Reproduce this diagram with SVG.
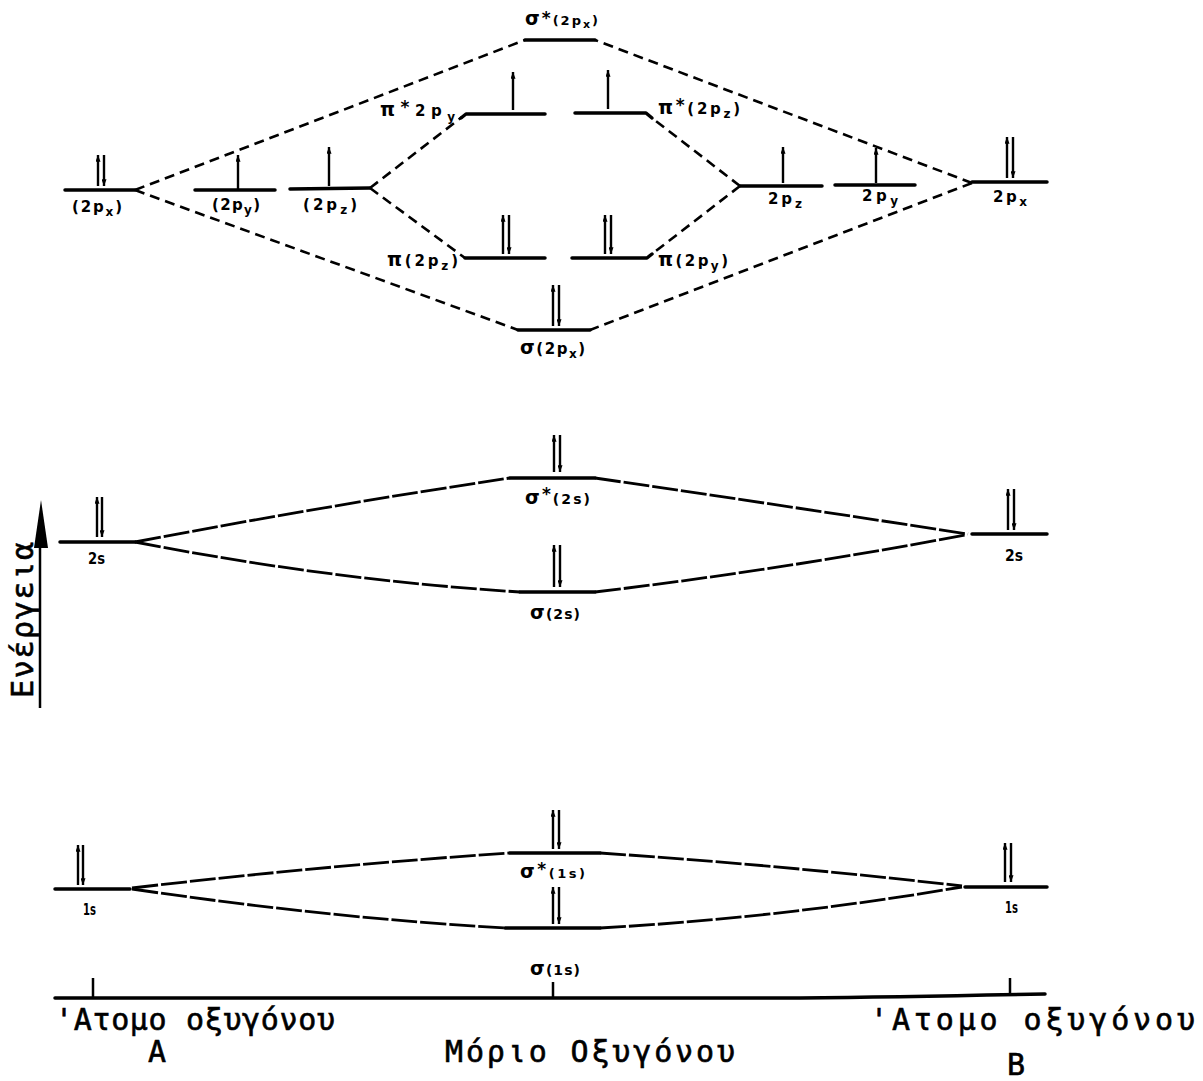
<svg xmlns="http://www.w3.org/2000/svg" width="1203" height="1081" viewBox="0 0 1203 1081">
  <style>
    .lvl { stroke: #000; stroke-width: 3.5; fill: none; stroke-linecap: round; stroke-linejoin: round; }
    .e { stroke: #000; stroke-width: 2.4; fill: none; }
    .up { marker-end: url(#ah); }
    .dash { stroke: #000; stroke-width: 2.6; fill: none; stroke-dasharray: 10 6; }
    .ldash { stroke: #000; stroke-width: 2.8; fill: none; stroke-dasharray: 26 3; }
    .lab { font-family: "DejaVu Sans", "Liberation Sans", sans-serif; font-weight: bold; font-size: 15px; fill: #000; }
    .big { font-size: 19px; }
    .sub { font-size: 12px; }
    .mono { font-family: "DejaVu Sans Mono", "Liberation Mono", monospace; font-size: 30px; fill: #000; stroke: #000; stroke-width: 0.6; }
    .axis { stroke: #000; stroke-width: 2.5; fill: none; }
  </style>
  <defs>
    <marker id="ah" viewBox="0 0 8 6" markerWidth="7" markerHeight="5" refX="8" refY="3" orient="auto" markerUnits="userSpaceOnUse">
      <path d="M0,0 L8,3 L0,6 z" fill="#000"/>
    </marker>
  </defs>
  <rect width="1203" height="1081" fill="#fff"/>

  <!-- energy axis -->
  <g id="energy-axis">
    <line class="axis" x1="40" y1="708" x2="40" y2="540"/>
    <polygon points="41,500 34,548 48,548" fill="#000"/>
    <text class="mono" font-size="31" transform="translate(33,698) rotate(-90)" textLength="156" lengthAdjust="spacing">Ενέργεια</text>
  </g>

  <!-- connectors -->
  <g id="connectors">
    <!-- 2p -->
    <path class="dash" d="M135,190 L525,40"/>
    <path class="dash" d="M135,190 L518,330"/>
    <path class="dash" d="M972,183 L595,40"/>
    <path class="dash" d="M972,183 L590,330"/>
    <path class="dash" d="M370,188 L462,117"/>
    <path class="dash" d="M370,188 L465,258"/>
    <path class="dash" d="M740,186 L652,118"/>
    <path class="dash" d="M740,186 L652,254"/>
    <!-- 2s -->
    <path class="ldash" d="M135,542 Q330,505 510,478"/>
    <path class="ldash" d="M135,542 Q330,580 520,592"/>
    <path class="ldash" d="M595,478 Q780,505 968,534"/>
    <path class="ldash" d="M595,592 Q780,570 965,535"/>
    <!-- 1s -->
    <path class="ldash" d="M132,888 Q330,865 510,853"/>
    <path class="ldash" d="M132,889 Q330,918 505,928"/>
    <path class="ldash" d="M600,853 Q780,865 962,886"/>
    <path class="ldash" d="M600,928 Q780,918 962,887"/>
  </g>

  <!-- atom A, 2p -->
  <g id="A-2px">
    <line class="lvl" x1="65" y1="190" x2="135" y2="190"/>
    <line class="e up" x1="98" y1="186" x2="98" y2="155"/>
    <line class="e up" x1="104" y1="155" x2="104" y2="186"/>
    <text class="lab" x="72" y="212" textLength="50" lengthAdjust="spacing">(2p<tspan class="sub" dy="4">x</tspan><tspan dy="-4">)</tspan></text>
  </g>
  <g id="A-2py">
    <line class="lvl" x1="195" y1="190" x2="275" y2="190"/>
    <line class="e up" x1="238" y1="189" x2="238" y2="155"/>
    <text class="lab" x="212" y="210" textLength="48" lengthAdjust="spacing">(2p<tspan class="sub" dy="4">y</tspan><tspan dy="-4">)</tspan></text>
  </g>
  <g id="A-2pz">
    <line class="lvl" x1="290" y1="189" x2="370" y2="188"/>
    <line class="e up" x1="329" y1="186" x2="329" y2="147"/>
    <text class="lab" x="303" y="210" textLength="54" lengthAdjust="spacing">(2p<tspan class="sub" dy="4">z</tspan><tspan dy="-4">)</tspan></text>
  </g>

  <!-- molecule, 2p -->
  <g id="sigma-star-2px">
    <line class="lvl" x1="525" y1="40" x2="595" y2="40"/>
    <text class="lab" x="525" y="25" textLength="73" lengthAdjust="spacing"><tspan class="big">σ</tspan><tspan font-size="17" dy="-1">*</tspan><tspan font-size="13" dy="1">(2p</tspan><tspan font-size="11" dy="3">x</tspan><tspan font-size="13" dy="-3">)</tspan></text>
  </g>
  <g id="pi-star-2py">
    <path class="lvl" d="M461,118 L466,114 L545,114"/>
    <line class="e up" x1="513" y1="110" x2="513" y2="72"/>
    <text class="lab" x="380" y="116" textLength="75" lengthAdjust="spacing"><tspan class="big">π</tspan><tspan font-size="17" dy="-3">*</tspan><tspan dy="3">2p</tspan><tspan class="sub" dy="5">y</tspan></text>
  </g>
  <g id="pi-star-2pz">
    <path class="lvl" d="M575,113 L646,113 L652,118"/>
    <line class="e up" x1="608" y1="109" x2="608" y2="70"/>
    <text class="lab" x="658" y="114" textLength="82" lengthAdjust="spacing"><tspan class="big">π</tspan><tspan font-size="17" dy="-3">*</tspan><tspan dy="3">(2p</tspan><tspan class="sub" dy="4">z</tspan><tspan dy="-4">)</tspan></text>
  </g>
  <g id="pi-2pz">
    <line class="lvl" x1="465" y1="258" x2="545" y2="258"/>
    <line class="e up" x1="503" y1="254" x2="503" y2="215"/>
    <line class="e up" x1="509" y1="215" x2="509" y2="254"/>
    <text class="lab" x="387" y="266" textLength="71" lengthAdjust="spacing"><tspan class="big">π</tspan>(2p<tspan class="sub" dy="4">z</tspan><tspan dy="-4">)</tspan></text>
  </g>
  <g id="pi-2py">
    <path class="lvl" d="M572,258 L647,258 L652,254"/>
    <line class="e up" x1="605" y1="254" x2="605" y2="215"/>
    <line class="e up" x1="611" y1="215" x2="611" y2="254"/>
    <text class="lab" x="658" y="266" textLength="70" lengthAdjust="spacing"><tspan class="big">π</tspan>(2p<tspan class="sub" dy="4">y</tspan><tspan dy="-4">)</tspan></text>
  </g>
  <g id="sigma-2px">
    <line class="lvl" x1="518" y1="330" x2="590" y2="330"/>
    <line class="e up" x1="553" y1="326" x2="553" y2="285"/>
    <line class="e up" x1="559" y1="285" x2="559" y2="326"/>
    <text class="lab" x="520" y="354" textLength="65" lengthAdjust="spacing"><tspan class="big">σ</tspan>(2p<tspan class="sub" dy="4">x</tspan><tspan dy="-4">)</tspan></text>
  </g>

  <!-- atom B, 2p -->
  <g id="B-2pz">
    <line class="lvl" x1="740" y1="186" x2="822" y2="186"/>
    <line class="e up" x1="783" y1="183" x2="783" y2="147"/>
    <text class="lab" x="768" y="204" textLength="34" lengthAdjust="spacing">2p<tspan class="sub" dy="4">z</tspan></text>
  </g>
  <g id="B-2py">
    <line class="lvl" x1="835" y1="185" x2="915" y2="185"/>
    <line class="e up" x1="876" y1="183" x2="876" y2="148"/>
    <text class="lab" x="862" y="201" textLength="36" lengthAdjust="spacing">2p<tspan class="sub" dy="4">y</tspan></text>
  </g>
  <g id="B-2px">
    <line class="lvl" x1="972" y1="182" x2="1047" y2="182"/>
    <line class="e up" x1="1007" y1="178" x2="1007" y2="137"/>
    <line class="e up" x1="1013" y1="137" x2="1013" y2="178"/>
    <text class="lab" x="993" y="202" textLength="34" lengthAdjust="spacing">2p<tspan class="sub" dy="4">x</tspan></text>
  </g>

  <!-- 2s -->
  <g id="A-2s">
    <line class="lvl" x1="60" y1="542" x2="135" y2="542"/>
    <line class="e up" x1="97" y1="537" x2="97" y2="497"/>
    <line class="e up" x1="102" y1="497" x2="102" y2="537"/>
    <text class="lab" x="88" y="564" font-size="14" textLength="17" lengthAdjust="spacingAndGlyphs">2s</text>
  </g>
  <g id="sigma-star-2s">
    <line class="lvl" x1="510" y1="478" x2="595" y2="478"/>
    <line class="e up" x1="554" y1="472" x2="554" y2="435"/>
    <line class="e up" x1="560" y1="435" x2="560" y2="472"/>
    <text class="lab" x="525" y="504" textLength="65" lengthAdjust="spacing"><tspan class="big">σ</tspan><tspan font-size="17" dy="-4">*</tspan><tspan font-size="14" dy="4">(2s)</tspan></text>
  </g>
  <g id="sigma-2s">
    <line class="lvl" x1="520" y1="592" x2="595" y2="592"/>
    <line class="e up" x1="554" y1="587" x2="554" y2="545"/>
    <line class="e up" x1="560" y1="545" x2="560" y2="587"/>
    <text class="lab" x="530" y="619" textLength="50" lengthAdjust="spacing"><tspan class="big">σ</tspan><tspan font-size="14">(2s)</tspan></text>
  </g>
  <g id="B-2s">
    <line class="lvl" x1="972" y1="534" x2="1047" y2="534"/>
    <line class="e up" x1="1008" y1="530" x2="1008" y2="489"/>
    <line class="e up" x1="1014" y1="489" x2="1014" y2="530"/>
    <text class="lab" x="1005" y="561" font-size="14" textLength="18" lengthAdjust="spacingAndGlyphs">2s</text>
  </g>

  <!-- 1s -->
  <g id="A-1s">
    <line class="lvl" x1="55" y1="889" x2="130" y2="889"/>
    <line class="e up" x1="78" y1="885" x2="78" y2="845"/>
    <line class="e up" x1="83" y1="845" x2="83" y2="885"/>
    <text class="lab" x="83" y="915" font-size="13" textLength="13" lengthAdjust="spacingAndGlyphs">1s</text>
  </g>
  <g id="sigma-star-1s">
    <line class="lvl" x1="510" y1="853" x2="600" y2="853"/>
    <line class="e up" x1="553" y1="849" x2="553" y2="810"/>
    <line class="e up" x1="559" y1="810" x2="559" y2="849"/>
    <text class="lab" x="520" y="878" textLength="65" lengthAdjust="spacing"><tspan class="big">σ</tspan><tspan font-size="17" dy="-3">*</tspan><tspan font-size="13" dy="3">(1s)</tspan></text>
  </g>
  <g id="sigma-1s">
    <line class="lvl" x1="505" y1="928" x2="600" y2="928"/>
    <line class="e up" x1="553" y1="924" x2="553" y2="887"/>
    <line class="e up" x1="559" y1="887" x2="559" y2="924"/>
    <text class="lab" x="530" y="975" textLength="50" lengthAdjust="spacing"><tspan class="big">σ</tspan><tspan font-size="14">(1s)</tspan></text>
  </g>
  <g id="B-1s">
    <line class="lvl" x1="965" y1="887" x2="1047" y2="887"/>
    <line class="e up" x1="1005" y1="882" x2="1005" y2="843"/>
    <line class="e up" x1="1011" y1="843" x2="1011" y2="882"/>
    <text class="lab" x="1005" y="913" font-size="13" textLength="13" lengthAdjust="spacingAndGlyphs">1s</text>
  </g>

  <!-- bottom baseline with tick marks -->
  <g id="baseline">
    <path class="lvl" stroke-width="3" d="M55,998 L800,998 Q900,997 1045,994"/>
    <line class="axis" x1="93" y1="978" x2="93" y2="998"/>
    <line class="axis" x1="553" y1="982" x2="553" y2="998"/>
    <line class="axis" x1="1010" y1="978" x2="1010" y2="995"/>
  </g>

  <!-- captions -->
  <g id="captions">
    <text class="mono" x="55" y="1030" textLength="280" lengthAdjust="spacing">'Ατομο οξυγόνου</text>
    <text class="mono" x="148" y="1062">A</text>
    <text class="mono" x="445" y="1062" textLength="290" lengthAdjust="spacing">Μόριο Οξυγόνου</text>
    <text class="mono" x="870" y="1030" textLength="325" lengthAdjust="spacing">'Ατομο οξυγόνου</text>
    <text class="mono" x="1007" y="1075" font-size="28">B</text>
  </g>
</svg>
